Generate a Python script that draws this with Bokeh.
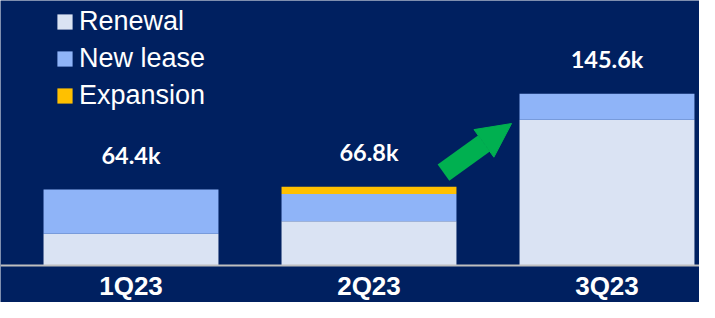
from bokeh.plotting import figure
from bokeh.models import Range1d, Legend, LegendItem, Arrow, NormalHead, Span, ColumnDataSource
from bokeh.core.properties import value
from bokeh.embed import file_html
from bokeh.resources import INLINE

# ---- data ----
quarters = ["1Q23", "2Q23", "3Q23"]
renewal = [27.0, 37.6, 123.5]
new_lease = [37.4, 22.9, 22.1]
expansion = [0.0, 6.3, 0.0]
totals = [64.4, 66.8, 145.6]
total_labels = ["64.4k", "66.8k", "145.6k"]
series_names = ["Renewal", "New lease", "Expansion"]

BG = "#002060"
colors = ["#dae3f3", "#8fb4f8", "#ffc000"]

xpos = list(range(len(quarters)))
src = ColumnDataSource(dict(x=xpos, renewal=renewal, new_lease=new_lease,
                            expansion=expansion, total=totals,
                            tlab=total_labels, q=quarters,
                            zero=[0] * len(quarters)))

PX_PER_K = 1.18
BASE = 265  # pixel row of the baseline from top
H = 302
p = figure(width=699, height=H, output_backend="svg", toolbar_location=None,
           x_range=Range1d(-0.5483, 2.3887),
           y_range=Range1d(-(H - BASE) / PX_PER_K, BASE / PX_PER_K),
           min_border=0, min_border_left=0, min_border_right=0,
           min_border_top=0, min_border_bottom=0)
p.background_fill_color = BG
p.border_fill_color = BG
p.outline_line_color = None
p.xaxis.visible = False
p.yaxis.visible = False
p.grid.visible = False

rs = p.vbar_stack(["renewal", "new_lease", "expansion"], x="x", width=0.735,
                  source=src, fill_color=colors, line_color=None)

# baseline
p.add_layout(Span(location=0, dimension="width", line_color="#bfbfbf", line_width=2))

# total labels
p.text(x="x", y="total", text="tlab", source=src, text_color="white",
       text_font=value("Lato"), text_font_style="bold", text_font_size="23.5px",
       text_align="center", text_baseline="alphabetic", y_offset=-35)

# category labels
p.text(x="x", y="zero", text="q", source=src, text_color="white",
       text_font=value("Liberation Sans"), text_font_style="bold", text_font_size="26px",
       text_align="center", text_baseline="alphabetic", y_offset=20)

# growth arrow
p.add_layout(Arrow(x_start=1.313, y_start=78.8, x_end=1.599, y_end=120.3,
                   line_color="#00b050", line_width=20, line_cap="butt",
                   end=NormalHead(size=34, fill_color="#00b050", line_color="#00b050")))

legend = Legend(items=[LegendItem(label=n, renderers=[r]) for n, r in zip(series_names, rs)],
                location=(55, 188), orientation="vertical",
                glyph_width=19, glyph_height=19, label_standoff=5,
                label_text_font="Liberation Sans", label_text_font_size="27px",
                label_text_color="white", label_height=37, spacing=0, padding=0,
                margin=0, background_fill_alpha=0, border_line_color=None)
p.add_layout(legend)

open("out.html", "w").write(file_html(p, INLINE))
